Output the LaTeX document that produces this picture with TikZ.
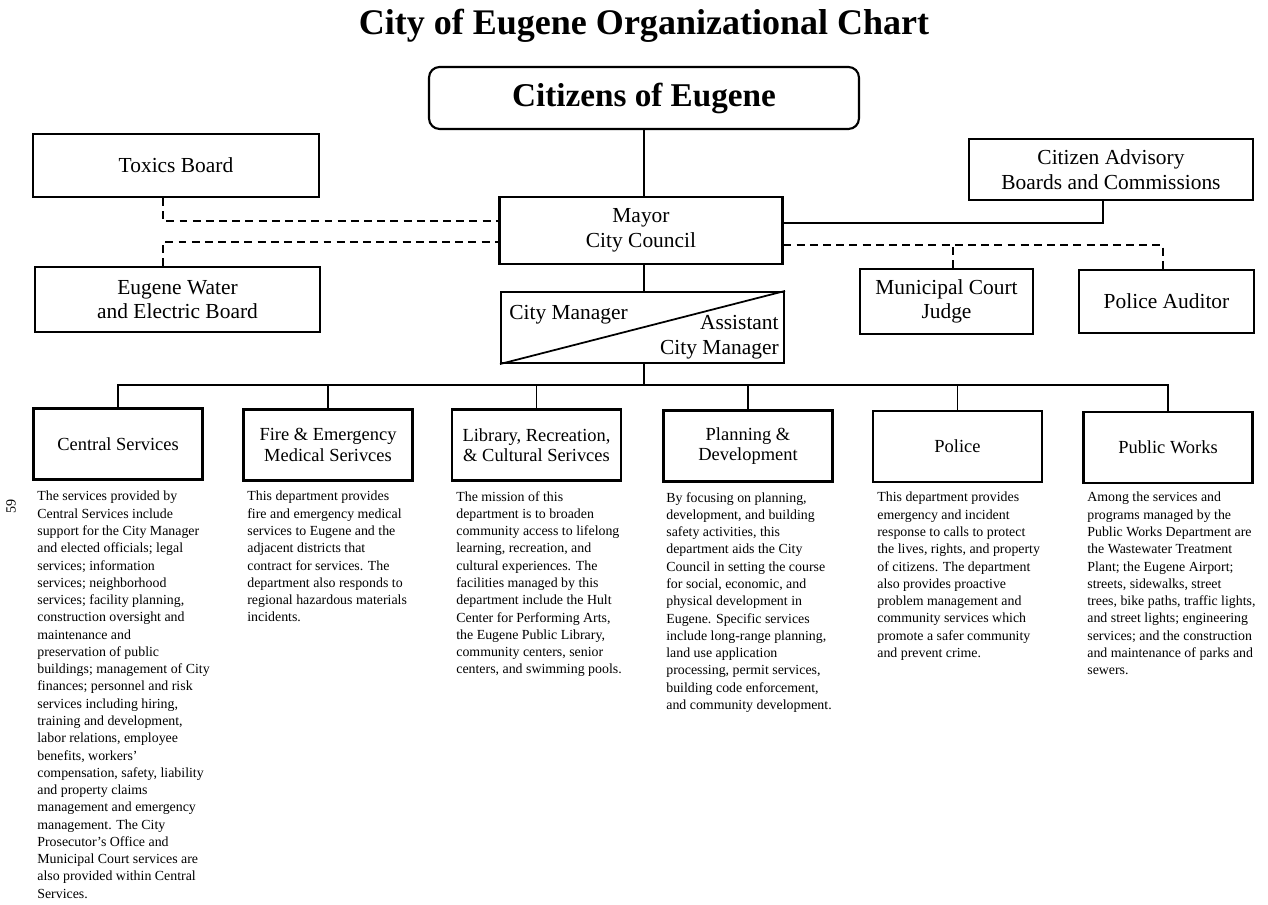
\documentclass[tikz,border=0pt]{standalone}
\usepackage{fontspec}
\setmainfont{Liberation Serif}
\begin{document}
\begin{tikzpicture}[x=0.02cm,y=-0.02cm,
  box/.style={draw,line width=1.2pt,inner sep=0pt,align=center},
  toplabel/.style={font=\fontsize{12.2}{14}\selectfont},
  deptlabel/.style={font=\fontsize{10.5}{11.6}\selectfont},
  dept/.style={box,line width=1.5pt,deptlabel,minimum width=3.38cm,minimum height=1.42cm},
  desc/.style={anchor=north west,inner sep=0pt,align=left,font=\fontsize{7.9}{9.83}\selectfont},
  solidline/.style={line width=1pt},
  dashline/.style={line width=1pt,dash pattern=on 4.5pt off 3pt}]
\useasboundingbox (0,0) rectangle (1268,905);

\node[anchor=base,font=\bfseries\fontsize{20.5}{24}\selectfont] (title) at (644,35) {City of Eugene Organizational Chart};

\node[box,rounded corners=6pt,minimum width=8.6cm,minimum height=1.24cm,font=\bfseries\fontsize{18.9}{22}\selectfont] (citizens) at (644,98) {Citizens of Eugene};

\node[box,toplabel,minimum width=5.72cm,minimum height=1.26cm] (toxics) at (176,165.5) {Toxics Board};
\node[box,toplabel,minimum width=5.68cm,minimum height=1.22cm] (adv) at (1111,169.5) {Citizen Advisory\\Boards and Commissions};
\node[box,toplabel,minimum width=5.66cm,minimum height=1.34cm] (mayor) at (641,230.5) {Mayor\\City Council};
\node[box,toplabel,minimum width=5.7cm,minimum height=1.3cm] (ewb) at (177.5,299.5) {Eugene Water\\and Electric Board};
\node[box,minimum width=5.66cm,minimum height=1.42cm] (cm) at (642.5,327.5) {};
\node[box,toplabel,minimum width=3.46cm,minimum height=1.3cm] (judge) at (946.5,301.5) {Municipal Court\\Judge};
\node[box,toplabel,minimum width=3.5cm,minimum height=1.26cm] (auditor) at (1166.5,301.5) {Police Auditor};

\draw[line width=1pt] (cm.south west) -- (cm.north east);
\node[anchor=base west,toplabel,inner sep=0pt] (cmA) at (509,320) {City Manager};
\node[anchor=base east,toplabel,inner sep=0pt] (cmB) at (779,330) {Assistant};
\node[anchor=base east,toplabel,inner sep=0pt] (cmC) at (779,355) {City Manager};

\node[dept] (d1) at (118,444) {Central Services};
\node[dept] (d2) at (328,445) {Fire \& Emergency\\Medical Serivces};
\node[dept] (d3) at (536.5,445) {Library, Recreation,\\\& Cultural Serivces};
\node[dept] (d4) at (748,446) {Planning \&\\Development};
\node[dept] (d5) at (957.5,446.5) {Police};
\node[dept] (d6) at (1168,447.5) {Public Works};

% connectors
\draw[solidline] (citizens.south) -- (citizens.south |- mayor.north);
\draw[solidline] (mayor.south -| citizens.south) -- (cm.north -| citizens.south);
\coordinate (bus) at (644,385);
\draw[solidline] (cm.south -| bus) -- (bus);
\draw[solidline] (d1.north) -- (d1.north |- bus) -- (d6.north |- bus) -- (d6.north);
\foreach \d in {d2,d3,d4,d5} {\draw[solidline] (\d.north) -- (\d.north |- bus);}
\coordinate (advy) at (1103,223);
\draw[solidline] (adv.south -| advy) -- (advy) -- (mayor.east |- advy);

\coordinate (tx) at (163,221);
\draw[dashline] (toxics.south -| tx) -- (tx) -- (mayor.west |- tx);
\coordinate (ex) at (163,242);
\draw[dashline] (ewb.north -| ex) -- (ex) -- (mayor.west |- ex);
\coordinate (ry) at (1163,245);
\coordinate (jx) at (953,245);
\draw[dashline] (mayor.east |- ry) -- (ry) -- (auditor.north -| ry);
\draw[dashline] (judge.north -| jx) -- (jx);

\node[rotate=90,font=\fontsize{8}{9}\selectfont] (pg) at (11,506) {59};

\node[desc] (t1) at (37,491) {The services provided by\\Central Services include\\support for the City Manager\\and elected officials; legal\\services; information\\services; neighborhood\\services; facility planning,\\construction oversight and\\maintenance and\\preservation of public\\buildings; management of City\\finances; personnel and risk\\services including hiring,\\training and development,\\labor relations, employee\\benefits, workers'\\compensation, safety, liability\\and property claims\\management and emergency\\management. The City\\Prosecutor's Office and\\Municipal Court services are\\also provided within Central\\Services.};
\node[desc] (t2) at (247,491) {This department provides\\fire and emergency medical\\services to Eugene and the\\adjacent districts that\\contract for services. The\\department also responds to\\regional hazardous materials\\incidents.};
\node[desc] (t3) at (456,491) {The mission of this\\department is to broaden\\community access to lifelong\\learning, recreation, and\\cultural experiences. The\\facilities managed by this\\department include the Hult\\Center for Performing Arts,\\the Eugene Public Library,\\community centers, senior\\centers, and swimming pools.};
\node[desc] (t4) at (666,492) {By focusing on planning,\\development, and building\\safety activities, this\\department aids the City\\Council in setting the course\\for social, economic, and\\physical development in\\Eugene. Specific services\\include long-range planning,\\land use application\\processing, permit services,\\building code enforcement,\\and community development.};
\node[desc] (t5) at (877,492) {This department provides\\emergency and incident\\response to calls to protect\\the lives, rights, and property\\of citizens. The department\\also provides proactive\\problem management and\\community services which\\promote a safer community\\and prevent crime.};
\node[desc] (t6) at (1087,492) {Among the services and\\programs managed by the\\Public Works Department are\\the Wastewater Treatment\\Plant; the Eugene Airport;\\streets, sidewalks, street\\trees, bike paths, traffic lights,\\and street lights; engineering\\services; and the construction\\and maintenance of parks and\\sewers.};
\end{tikzpicture}
\end{document}
